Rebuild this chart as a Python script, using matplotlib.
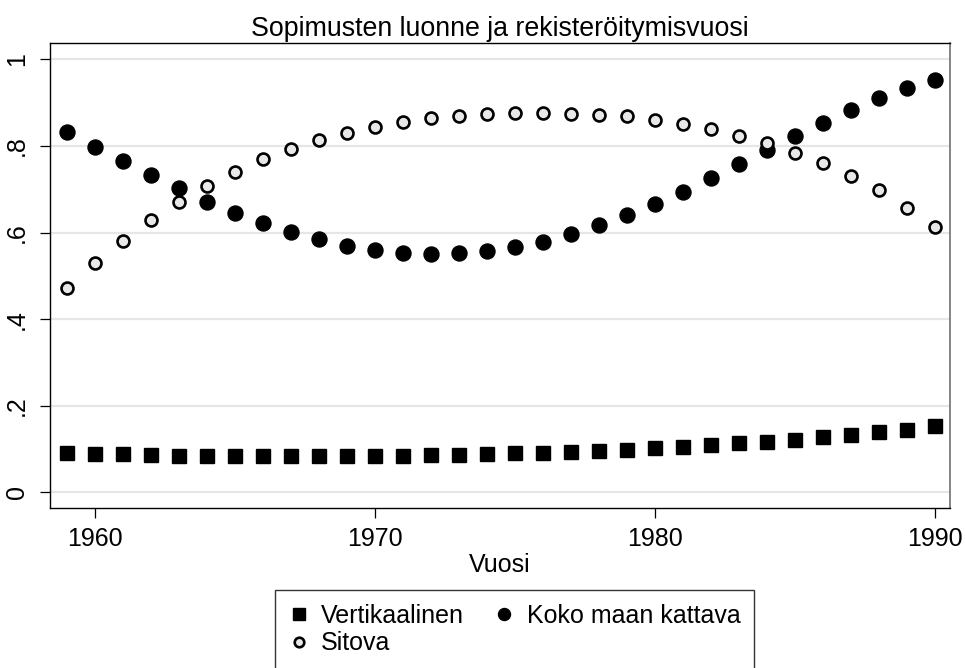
import matplotlib
matplotlib.use("Agg")
import matplotlib.pyplot as plt
import numpy as np

plt.rcParams['font.family'] = ['Liberation Sans', 'DejaVu Sans']

years = list(range(1959, 1991))

vertikaalinen = [0.092, 0.089, 0.088, 0.087, 0.085, 0.085, 0.084, 0.084, 0.084, 0.084,
                 0.084, 0.085, 0.085, 0.086, 0.087, 0.088, 0.090, 0.092, 0.094, 0.095,
                 0.099, 0.102, 0.105, 0.109, 0.113, 0.117, 0.122, 0.127, 0.133, 0.139,
                 0.145, 0.153]

koko_maan = [0.831, 0.798, 0.766, 0.733, 0.702, 0.671, 0.646, 0.623, 0.601, 0.584,
             0.569, 0.560, 0.553, 0.550, 0.553, 0.558, 0.566, 0.578, 0.597, 0.617,
             0.640, 0.667, 0.694, 0.725, 0.758, 0.790, 0.823, 0.854, 0.883, 0.910,
             0.933, 0.952]

sitova = [0.472, 0.529, 0.580, 0.629, 0.671, 0.708, 0.740, 0.770, 0.794, 0.813,
          0.829, 0.844, 0.856, 0.864, 0.869, 0.874, 0.875, 0.875, 0.874, 0.871,
          0.869, 0.860, 0.850, 0.840, 0.824, 0.807, 0.784, 0.760, 0.731, 0.698,
          0.657, 0.612]

xticks = [1960, 1970, 1980, 1990]
yticks = [0, 0.2, 0.4, 0.6, 0.8, 1.0]
ytick_labels = ["0", ".2", ".4", ".6", ".8", "1"]

title = "Sopimusten luonne ja rekisteröitymisvuosi"
xlabel = "Vuosi"
labels = ["Vertikaalinen", "Koko maan kattava", "Sitova"]

FS_T = 19.3
FS = 18

fig = plt.figure(figsize=(9.65, 6.68), dpi=100)
ax = fig.add_axes([50/965, (668-508)/668, 900/965, 465/668])

for y in yticks:
    ax.axhline(y, color='#e6e6e6', lw=1.6, zorder=0)

h1, = ax.plot(years, vertikaalinen, ls='none', marker='s', ms=10.2, color='black',
              mec='black', label=labels[0], zorder=3)
h2, = ax.plot(years, koko_maan, ls='none', marker='o', ms=10.8, color='black',
              mec='black', label=labels[1], zorder=3)
h3, = ax.plot(years, sitova, ls='none', marker='o', ms=8.6, mfc='#e8e8e8',
              mec='black', mew=1.9, label=labels[2], zorder=4)

ax.set_xlim(1958.39, 1990.54)
ax.set_ylim(-0.036, 1.0376)
ax.set_xticks(xticks)
ax.set_xticklabels([str(x) for x in xticks])
ax.set_yticks(yticks)
ax.set_yticklabels(ytick_labels, rotation=90, va='center')
ax.tick_params(axis='both', length=7, width=0.9, labelsize=FS, direction='out')
ax.tick_params(axis='x', pad=7)
ax.tick_params(axis='y', pad=8)

for s in ['left', 'bottom', 'top']:
    ax.spines[s].set_linewidth(1.0)
    ax.spines[s].set_color('black')
ax.spines['right'].set_color('#707070')
ax.spines['right'].set_linewidth(1.2)

ax.set_title(title, fontsize=FS_T, pad=5)
ax.set_xlabel(xlabel, fontsize=FS, labelpad=1)

leg = fig.legend(handles=[h1, h3, h2], labels=[labels[0], labels[2], labels[1]],
                 ncol=2, loc='upper left', bbox_to_anchor=(275/965, (668-590)/668),
                 borderaxespad=0,
                 frameon=True, fancybox=False, fontsize=FS, edgecolor='black',
                 handlelength=0.8, handletextpad=0.5, columnspacing=1.2,
                 borderpad=0.55, labelspacing=0.15, markerscale=0.8)
leg.get_frame().set_linewidth(1.0)

fig.savefig("out.png", dpi=100)
